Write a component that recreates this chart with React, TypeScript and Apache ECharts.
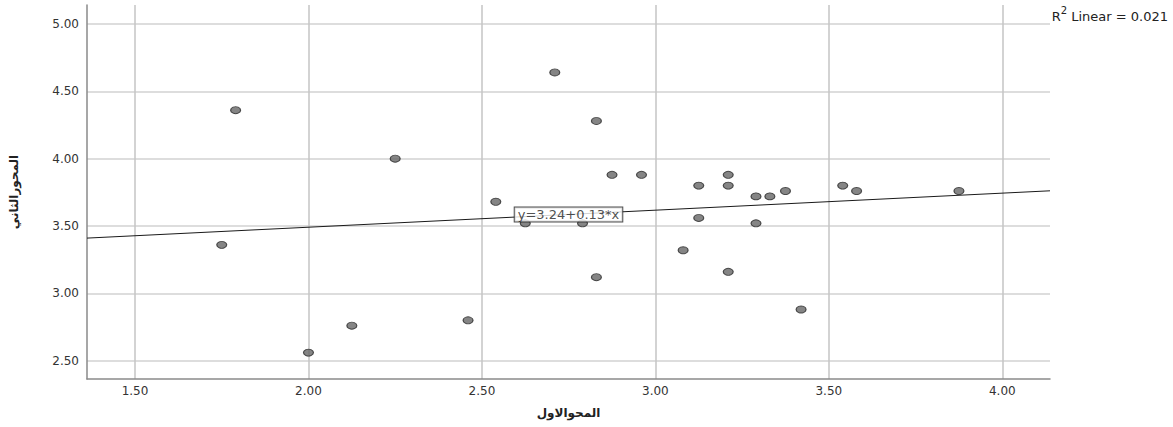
import React, { useEffect, useRef } from "react";
import * as echarts from "echarts";

// Scatter data
const X_VALUES = [
  1.79, 1.75, 2.0, 2.125, 2.25, 2.46, 2.54, 2.625, 2.71, 2.79, 2.83, 2.83, 2.875, 2.96,
  3.08, 3.125, 3.125, 3.21, 3.21, 3.21, 3.29, 3.29, 3.33, 3.375, 3.42, 3.54, 3.58, 3.875,
];
const Y_VALUES = [
  4.36, 3.36, 2.56, 2.76, 4.0, 2.8, 3.68, 3.52, 4.64, 3.52, 4.28, 3.12, 3.88, 3.88,
  3.32, 3.8, 3.56, 3.88, 3.8, 3.16, 3.72, 3.52, 3.72, 3.76, 2.88, 3.8, 3.76, 3.76,
];

// Axis ticks and ranges
const X_TICKS = [1.5, 2.0, 2.5, 3.0, 3.5, 4.0];
const Y_TICKS = [2.5, 3.0, 3.5, 4.0, 4.5, 5.0];
const X_MIN = 1.3616;
const X_MAX = 4.1375;
const Y_MIN = 2.364;
const Y_MAX = 5.141;

// Linear fit
const INTERCEPT = 3.238;
const SLOPE = 0.1265;
const R_SQUARED = 0.021;

const X_NAME = "المحوالاول";
const Y_NAME = "المحورالثاني";

const NUM_FONT = "DejaVu Sans, Liberation Sans, sans-serif";
const AR_FONT = "DejaVu Sans, Noto Sans, sans-serif";

export default function App() {
  const ref = useRef<HTMLDivElement>(null);

  useEffect(() => {
    if (!ref.current) return;
    const chart = echarts.init(ref.current, undefined, { renderer: "svg" });

    const points = X_VALUES.map((x, i) => [x, Y_VALUES[i]]);
    const fitLine = [
      [X_MIN, INTERCEPT + SLOPE * X_MIN],
      [X_MAX, INTERCEPT + SLOPE * X_MAX],
    ];
    const xMid = (X_MIN + X_MAX) / 2;
    const labelPoint = [[xMid, INTERCEPT + SLOPE * xMid]];
    const eqText = `y=${INTERCEPT.toFixed(2)}+${SLOPE.toFixed(2)}*x`;

    chart.setOption({
      animation: false,
      backgroundColor: "#ffffff",
      grid: {
        left: 87,
        right: 123,
        top: 5,
        bottom: 48,
        containLabel: false,
        outerBoundsMode: "none",
      },
      xAxis: {
        type: "value",
        min: X_MIN,
        max: X_MAX,
        name: X_NAME,
        nameLocation: "middle",
        nameGap: 28,
        nameTextStyle: {
          fontFamily: AR_FONT,
          fontWeight: "bold",
          fontSize: 12,
          color: "#222",
        },
        axisLine: { show: true, lineStyle: { color: "#8a8a8a", width: 1.5 } },
        axisTick: { show: false, customValues: X_TICKS },
        axisLabel: {
          customValues: X_TICKS,
          formatter: (v: number) => v.toFixed(2),
          fontFamily: NUM_FONT,
          fontSize: 12,
          color: "#333",
          margin: 6,
        },
        splitLine: { show: true, lineStyle: { color: "#c4c4c4", width: 1.5 } },
      },
      yAxis: {
        type: "value",
        min: Y_MIN,
        max: Y_MAX,
        name: Y_NAME,
        nameLocation: "middle",
        nameRotate: 90,
        nameGap: 67,
        nameTextStyle: {
          fontFamily: AR_FONT,
          fontWeight: "bold",
          fontSize: 12,
          color: "#222",
        },
        axisLine: { show: true, lineStyle: { color: "#8a8a8a", width: 1.5 } },
        axisTick: { show: false, customValues: Y_TICKS },
        axisLabel: {
          customValues: Y_TICKS,
          formatter: (v: number) => v.toFixed(2),
          fontFamily: NUM_FONT,
          fontSize: 12,
          color: "#333",
          margin: 8,
        },
        splitLine: { show: true, lineStyle: { color: "#d2d2d2", width: 1.5 } },
      },
      graphic: [
        {
          type: "text",
          right: 5,
          top: 5,
          style: {
            text: `{a|R}{s|2}{a| Linear = ${R_SQUARED.toFixed(3)}}`,
            rich: {
              a: {
                fontFamily: NUM_FONT,
                fontSize: 13,
                lineHeight: 18,
                verticalAlign: "bottom",
                fill: "#222",
              },
              s: {
                fontFamily: NUM_FONT,
                fontSize: 10,
                lineHeight: 12,
                verticalAlign: "top",
                fill: "#222",
              },
            },
          },
        },
      ],
      series: [
        {
          type: "line",
          data: fitLine,
          symbol: "none",
          lineStyle: { color: "#1a1a1a", width: 1 },
          z: 2,
          silent: true,
        },
        {
          type: "scatter",
          data: points,
          symbol: "circle",
          symbolSize: [10, 7],
          itemStyle: { color: "#666666", borderColor: "#2a2a2a", borderWidth: 1 },
          z: 3,
        },
        {
          type: "scatter",
          data: labelPoint,
          symbolSize: 0,
          z: 5,
          label: {
            show: true,
            position: "inside",
            formatter: eqText,
            fontFamily: NUM_FONT,
            fontSize: 13,
            color: "#222",
            backgroundColor: "#ffffff",
            borderColor: "#222222",
            borderWidth: 1,
            padding: [1, 3, 0, 3],
          },
        },
      ],
    });

    return () => chart.dispose();
  }, []);

  return (
    <div
      ref={ref}
      style={{ position: "fixed", left: 0, top: 0, width: 1173, height: 427 }}
    />
  );
}
